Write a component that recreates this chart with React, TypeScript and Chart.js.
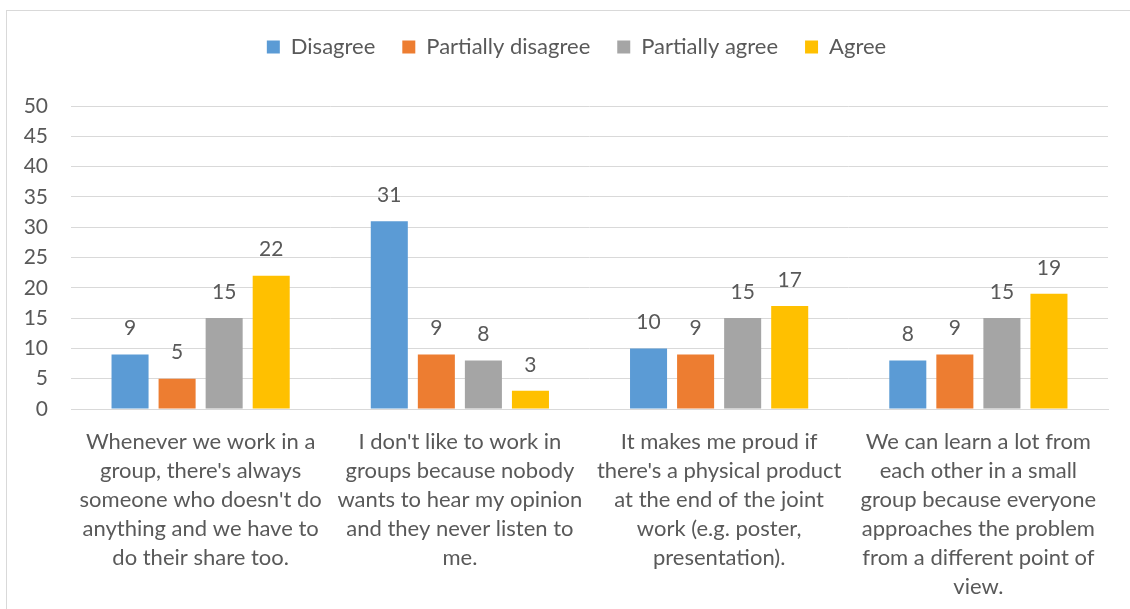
import React, { useEffect, useRef } from "react";
import { Chart, registerables } from "chart.js";

Chart.register(...registerables);

const categories: string[][] = [
  ["Whenever we work in a", "group, there's always", "someone who doesn't do", "anything and we have to", "do their share too."],
  ["I don't like to work in", "groups because nobody", "wants to hear my opinion", "and they never listen to", "me."],
  ["It makes me proud if", "there's a physical product", "at the end of the joint", "work (e.g. poster,", "presentation)."],
  ["We can learn a lot from", "each other in a small", "group because everyone", "approaches the problem", "from a different point of", "view."],
];
const seriesNames = ["Disagree", "Partially disagree", "Partially agree", "Agree"];
const disagree = [9, 31, 10, 8];
const partiallyDisagree = [5, 9, 9, 9];
const partiallyAgree = [15, 8, 15, 15];
const agree = [22, 3, 17, 19];
const seriesColors = ["#5B9BD5", "#ED7D31", "#A5A5A5", "#FFC000"];
const yMin = 0;
const yMax = 50;
const yStep = 5;

const FONT = "Lato, 'Open Sans', sans-serif";
const TEXT = "#595959";
const GRID = "#D9D9D9";

const valueLabels = {
  id: "valueLabels",
  afterDatasetsDraw(chart: any) {
    const ctx = chart.ctx;
    ctx.save();
    ctx.font = `21px ${FONT}`;
    ctx.fillStyle = TEXT;
    ctx.textAlign = "center";
    ctx.textBaseline = "middle";
    chart.data.datasets.forEach((ds: any, i: number) => {
      const meta = chart.getDatasetMeta(i);
      meta.data.forEach((bar: any, j: number) => {
        ctx.fillText(String(ds.data[j]), bar.x, bar.y - 26);
      });
    });
    ctx.restore();
  },
};

const legendSpacer = {
  id: "legendSpacer",
  beforeLayout(chart: any) {
    const lg = chart.legend;
    if (lg && !lg.__patched) {
      const orig = lg.fit;
      lg.fit = function () {
        orig.call(this);
        this.height += 38;
      };
      lg.__patched = true;
    }
  },
  afterLayout(chart: any) {
    const lg = chart.legend;
    if (lg) {
      lg.left += 19;
      lg.right += 19;
    }
  },
};

export default function App() {
  const ref = useRef<HTMLCanvasElement>(null);
  useEffect(() => {
    if (!ref.current) return;
    const data = [disagree, partiallyDisagree, partiallyAgree, agree];
    const chart = new Chart(ref.current, {
      type: "bar",
      data: {
        labels: categories as any,
        datasets: seriesNames.map((name, i) => ({
          label: name,
          data: data[i],
          backgroundColor: seriesColors[i],
          borderWidth: 0,
          categoryPercentage: 0.726,
          barPercentage: 0.787,
        })),
      },
      options: {
        animation: false,
        responsive: true,
        maintainAspectRatio: false,
        layout: { padding: { left: 0, right: 23, top: -2, bottom: 0 } },
        plugins: {
          legend: {
            position: "top",
            labels: {
              boxWidth: 13,
              boxHeight: 13,
              padding: 27,
              color: TEXT,
              font: { family: FONT, size: 22 },
            },
          },
          tooltip: { enabled: false },
        },
        scales: {
          x: {
            grid: { display: false, drawTicks: false },
            border: { display: true, color: GRID, width: 1 },
            ticks: {
              color: TEXT,
              font: { family: FONT, size: 22, lineHeight: 1.32 },
              padding: 18,
              maxRotation: 0,
              autoSkip: false,
            },
            afterFit(scale: any) {
              scale.height = 201;
            },
          },
          y: {
            min: yMin,
            max: yMax,
            ticks: {
              stepSize: yStep,
              color: TEXT,
              font: { family: FONT, size: 21 },
              padding: 23,
            },
            grid: { color: GRID, lineWidth: 1, drawTicks: false },
            border: { display: false },
            afterFit(scale: any) {
              scale.width = 64;
            },
          },
        },
      },
      plugins: [valueLabels, legendSpacer],
    });
    return () => chart.destroy();
  }, []);

  return (
    <div
      style={{
        position: "fixed",
        left: 6,
        top: 10,
        width: 1124,
        height: 599,
        borderLeft: `1px solid ${GRID}`,
        borderTop: `1px solid ${GRID}`,
        background: "#fff",
      }}
    >
      <div style={{ position: "relative", width: "100%", height: "100%" }}>
        <canvas ref={ref} />
      </div>
    </div>
  );
}
